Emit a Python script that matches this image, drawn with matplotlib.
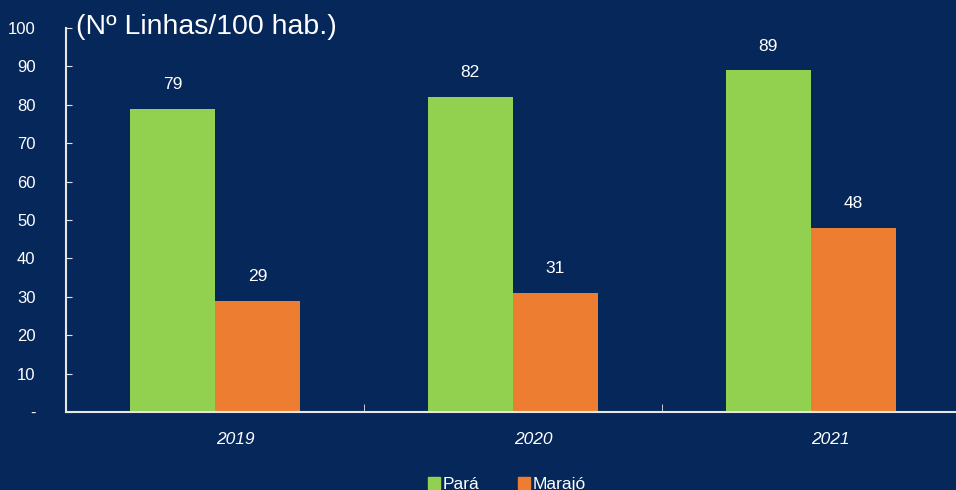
import matplotlib
matplotlib.use("Agg")
import matplotlib.pyplot as plt
from matplotlib.patches import Patch
import matplotlib.transforms as mtransforms
import numpy as np

plt.rcParams["font.family"] = ["Liberation Sans", "DejaVu Sans"]

BG = "#06275a"
GREEN = "#92d050"
ORANGE = "#ed7d31"
AXIS = "#e6e6e6"

years = ["2019", "2020", "2021"]
para = [79, 82, 89]
marajo = [29, 31, 48]
series_names = ["Pará", "Marajó"]
yticks = [0, 10, 20, 30, 40, 50, 60, 70, 80, 90, 100]
ytick_labels = ["-", "10", "20", "30", "40", "50", "60", "70", "80", "90", "100"]

fig = plt.figure(figsize=(9.56, 4.9), dpi=100, facecolor=BG)
ax = fig.add_axes([0.069, 0.159, 0.935, 0.784])
ax.set_facecolor(BG)

x = np.arange(len(years))
w = 0.286
b1 = ax.bar(x - w / 2, para, w, color=GREEN, label=series_names[0])
b2 = ax.bar(x + w / 2, marajo, w, color=ORANGE, label=series_names[1])

for bars, vals in [(b1, para), (b2, marajo)]:
    for r, v in zip(bars, vals):
        ax.annotate(f"{v}", (r.get_x() + r.get_width() / 2, v),
                    xytext=(0, 12), textcoords="offset points",
                    ha="center", va="bottom", color="white", fontsize=12.5)

ax.set_xlim(-0.5, 2.5)
ax.set_ylim(0, 100)
ax.set_yticks(yticks)
ax.set_yticklabels(ytick_labels, fontsize=12, color="white")
ax.tick_params(axis="y", direction="in", length=4, color=AXIS, pad=22)

ax.set_xticks(x)
ax.set_xticklabels(years, fontsize=12.5, color="white", style="italic")
ax.tick_params(axis="x", which="major", length=0, pad=14)
shift = mtransforms.ScaledTranslation(20 / 100, 0, fig.dpi_scale_trans)
for lbl in ax.get_xticklabels():
    lbl.set_transform(lbl.get_transform() + shift)
ax.set_xticks([0.5, 1.5], minor=True)
ax.tick_params(axis="x", which="minor", direction="in", length=6, color=AXIS)

for s in ["top", "right"]:
    ax.spines[s].set_visible(False)
for s in ["left", "bottom"]:
    ax.spines[s].set_color(AXIS)
    ax.spines[s].set_linewidth(1.5)

fig.text(0.080, 0.945, "(Nº Linhas/100 hab.)", fontsize=20.5, color="white",
         ha="left", va="center")

leg = fig.legend(handles=[Patch(color=GREEN, label=series_names[0]),
                          Patch(color=ORANGE, label=series_names[1])],
                 loc="center", bbox_to_anchor=(0.530, 0.012), ncol=2, frameon=False,
                 fontsize=12.5, handlelength=0.7, handleheight=0.7,
                 handletextpad=0.12, columnspacing=2.25)
for t in leg.get_texts():
    t.set_color("white")

fig.savefig("out.png", facecolor=BG)
